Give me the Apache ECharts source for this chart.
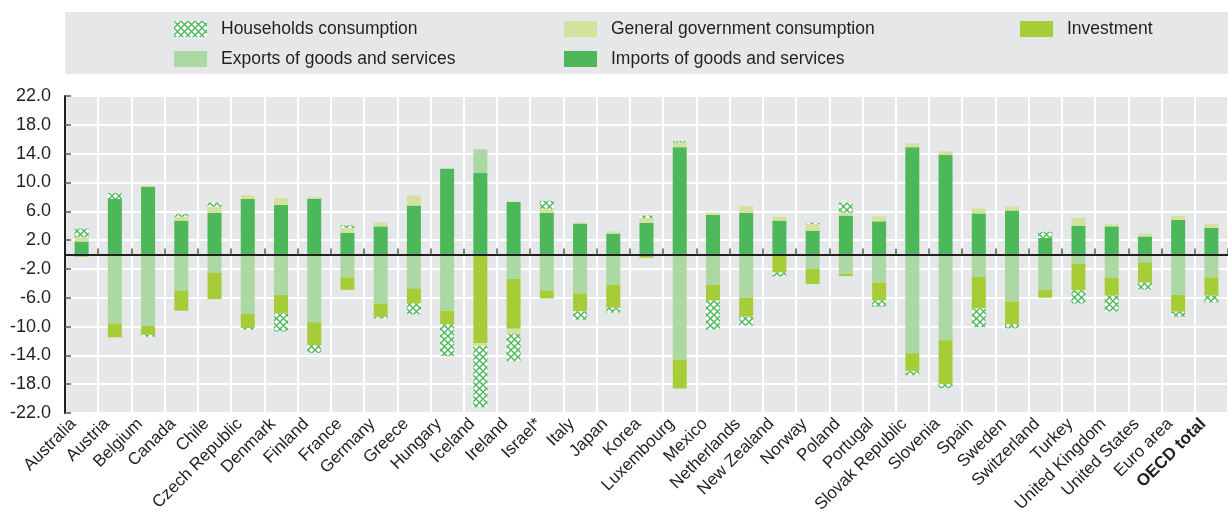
<!DOCTYPE html>
<html>
<head>
<meta charset="utf-8">
<script src="https://cdn.jsdelivr.net/npm/echarts@6/dist/echarts.min.js"></script>
<style>
html,body{margin:0;padding:0;background:#fff;}
#c{width:1228px;height:517px;}
</style>
</head>
<body>
<div id="c"></div>
<script>
const categories = ["Australia","Austria","Belgium","Canada","Chile","Czech Republic","Denmark","Finland","France","Germany","Greece","Hungary","Iceland","Ireland","Israel*","Italy","Japan","Korea","Luxembourg","Mexico","Netherlands","New Zealand","Norway","Poland","Portugal","Slovak Republic","Slovenia","Spain","Sweden","Switzerland","Turkey","United Kingdom","United States","Euro area","OECD total"];

const imports = [1.8, 7.7, 9.4, 4.7, 5.8, 7.7, 6.9, 7.7, 3.0, 3.9, 6.8, 11.9, 11.3, 7.3, 5.8, 4.3, 2.9, 4.4, 14.9, 5.5, 5.8, 4.7, 3.3, 5.4, 4.6, 14.9, 13.8, 5.7, 6.1, 2.3, 4.0, 3.9, 2.5, 4.8, 3.7];
const exportsData = [0, -9.6, -9.9, -5.0, -2.5, -8.2, -5.6, -9.4, -3.2, -6.8, -4.7, -7.8, 3.3, -3.4, -5.0, -5.4, -4.2, 0, -14.6, -4.2, -6.0, 0, -2.0, -2.7, -3.9, -13.7, -11.9, -3.1, -6.5, -4.9, -1.3, -3.2, -1.1, -5.6, -3.2];
const investment = [-0.3, -1.9, -1.25, -2.8, -3.7, -2.0, -2.6, -3.2, -1.7, -1.85, -2.1, -1.9, -12.3, -6.9, -1.1, -2.5, -3.2, -0.45, -4.0, -2.2, -2.6, -2.5, -2.1, -0.3, -2.5, -2.5, -6.1, -4.4, -3.2, -1.1, -3.7, -2.5, -2.8, -2.35, -2.5];
const government = [0.6, 0, 0.15, 0.55, 0.85, 0.55, 0.95, 0.3, 0.7, 0.55, 1.4, 0, -0.4, -0.7, 0.55, 0.15, 0.3, 0.7, 0.65, 0.3, 0.95, 0.55, 0.95, 0.4, 0.7, 0.55, 0.55, 0.7, 0.55, 0, 1.1, 0.3, 0.4, 0.55, 0.55];
const households = [1.2, 0.85, -0.25, 0.35, 0.55, -0.2, -2.5, -1.05, 0.35, -0.2, -1.5, -4.4, -8.5, -3.8, 1.1, -1.15, -0.65, 0.3, 0.2, -4.0, -1.25, -0.55, 0.15, 1.4, -0.85, -0.55, -0.55, -2.6, -0.55, 0.85, -1.8, -2.2, -0.95, -0.7, -0.95];

const yTicks = {min: -22, max: 22, interval: 4};

const FONT = "'Liberation Sans Narrow', 'Arial Narrow', 'Liberation Sans', sans-serif";
const TXT = '#231f20';
const C_IMP = '#4cb85a', C_EXP = '#acd8a4', C_INV = '#a6cd38', C_GOV = '#d3e39d';

function hatchCanvas(){
  const s = 7;
  const c = document.createElement('canvas');
  c.width = s; c.height = s;
  const g = c.getContext('2d');
  g.fillStyle = '#ffffff'; g.fillRect(0,0,s,s);
  g.strokeStyle = C_IMP; g.lineWidth = 1.4;
  g.beginPath();
  g.moveTo(-1,-1); g.lineTo(s+1,s+1);
  g.moveTo(s+1,-1); g.lineTo(-1,s+1);
  g.stroke();
  return c;
}
const hatch = {image: hatchCanvas(), repeat: 'repeat'};

const chart = echarts.init(document.getElementById('c'), null, {renderer:'canvas'});

function legendAt(name, left, top){
  return {
    data:[name], left:left, top:top, orient:'horizontal',
    itemWidth:33, itemHeight:16, icon:'rect', selectedMode:false,
    padding:0,
    textStyle:{fontFamily:FONT, fontSize:17.5, color:TXT, padding:[0,0,0,9]}
  };
}

function bar(name, data, color){
  return {
    name:name, type:'bar', stack:'total', data:data, barWidth:14,
    xAxisIndex:0, yAxisIndex:0,
    itemStyle:{color:color}, emphasis:{disabled:true}, animation:false
  };
}

const option = {
  animation:false,
  graphic:[{type:'rect', shape:{x:65, y:12, width:1163, height:62}, style:{fill:'#e6e7e9'}, z:-10}],
  legend:[
    legendAt('Households consumption', 174, 20),
    legendAt('General government consumption', 564, 20),
    legendAt('Investment', 1020, 20),
    legendAt('Exports of goods and services', 174, 50),
    legendAt('Imports of goods and services', 564, 50)
  ],
  grid:{left:65, right:-7, top:96, bottom:104, show:true, backgroundColor:'#e6e7e9', borderWidth:0, containLabel:false},
  xAxis:[{
    type:'category', data:categories, boundaryGap:true,
    axisLine:{onZero:true, lineStyle:{color:TXT, width:2}},
    axisTick:{show:true, inside:true, length:6, interval:0, lineStyle:{color:'#555', width:1.5}},
    axisLabel:{show:false},
    splitLine:{show:true, interval:0, lineStyle:{color:'#ffffff', width:2}},
    z:5
  },{
    type:'category', data:categories, position:'bottom', boundaryGap:true,
    axisLine:{show:false, onZero:false}, axisTick:{show:false}, splitLine:{show:false},
    axisLabel:{show:true, interval:0, rotate:45, margin:8, padding:[0,6,11,0], fontFamily:FONT, fontSize:17, color:TXT,
      formatter:function(v){ return v==='OECD total' ? '{b|'+v+'}' : v; },
      rich:{b:{fontWeight:'bold', fontFamily:FONT, fontSize:17, color:TXT}}
    }
  }],
  yAxis:[{
    type:'value', min:yTicks.min, max:yTicks.max, interval:yTicks.interval,
    axisLine:{show:false}, axisTick:{show:false}, axisLabel:{show:false},
    splitLine:{show:true, lineStyle:{color:'#ffffff', width:2}}
  },{
    type:'value', position:'left', min:yTicks.min, max:yTicks.max, interval:yTicks.interval,
    axisLine:{show:true, onZero:false, lineStyle:{color:TXT, width:2}},
    axisTick:{show:true, inside:true, length:6, lineStyle:{color:'#555', width:1.5}},
    axisLabel:{fontFamily:FONT, fontSize:18, color:TXT, margin:14, formatter:function(v){return v.toFixed(1);}},
    splitLine:{show:false},
    z:6
  }],
  series:[
    bar('Imports of goods and services', imports, C_IMP),
    bar('Exports of goods and services', exportsData, C_EXP),
    bar('Investment', investment, C_INV),
    bar('General government consumption', government, C_GOV),
    bar('Households consumption', households, hatch)
  ]
};
chart.setOption(option);
</script>
</body>
</html>
